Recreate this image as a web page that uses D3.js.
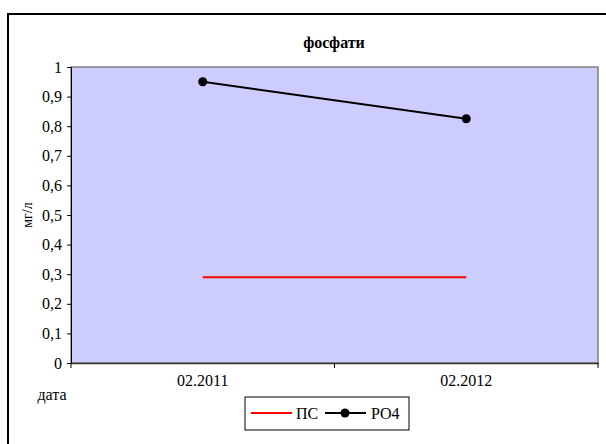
<!DOCTYPE html>
<html><head><meta charset="utf-8">
<script src="https://cdnjs.cloudflare.com/ajax/libs/d3/7.8.5/d3.min.js"></script>
<style>body{margin:0;background:#fff;}svg{display:block;}svg text{font-family:"Liberation Serif","Times New Roman",serif !important;fill:#000;}</style>
</head><body>
<svg id="c" width="606" height="444"></svg>
<script>
const categories = ["02.2011", "02.2012"];
const psValues = [0.29, 0.29];
const po4Values = [0.95, 0.825];
const yTicks = [0, 0.1, 0.2, 0.3, 0.4, 0.5, 0.6, 0.7, 0.8, 0.9, 1];
const title = "фосфати";
const yTitle = "мг/л";
const xTitle = "дата";
const seriesNames = ["ПС", "PO4"];

const svg = d3.select("#c");
const L = 71, R = 598, T = 67, B = 363;

// outer frame
svg.append("rect").attr("x", 8).attr("y", 14).attr("width", 620).attr("height", 450)
  .attr("fill", "#fff").attr("stroke", "#000").attr("stroke-width", 2);

const x = d3.scaleBand().domain(categories).range([L, R]);
const y = d3.scaleLinear().domain([0, 1]).range([B, T]);

svg.append("rect").attr("x", L).attr("y", T).attr("width", R - L).attr("height", B - T)
  .attr("fill", "#CCCCFF").attr("stroke", "#808080").attr("stroke-width", 1.5);

// y axis
const yAxis = svg.append("g").attr("transform", `translate(${L},0)`)
  .call(d3.axisLeft(y).tickValues(yTicks).tickSize(4).tickPadding(5)
    .tickFormat(d => d3.format("~g")(d).replace(".", ",")));
yAxis.select(".domain").attr("stroke", "#000");
yAxis.selectAll("line").attr("stroke", "#000");
yAxis.selectAll("text").attr("font-size", 16);

// x axis
const xAxis = svg.append("g").attr("transform", `translate(0,${B})`)
  .call(d3.axisBottom(x).tickSize(0).tickPadding(12));
xAxis.select(".domain").attr("stroke", "#333").attr("stroke-width", 1.5);
xAxis.selectAll("text").attr("font-size", 16);
// boundary ticks
const bounds = [L, ...categories.slice(1).map(c => x(c)), R];
svg.append("g").selectAll("line").data(bounds).join("line")
  .attr("x1", d => d).attr("x2", d => d).attr("y1", B).attr("y2", B + 5)
  .attr("stroke", "#000");

// PS line
const cx = c => x(c) + x.bandwidth() / 2;
const line = d3.line().x(d => cx(d.c)).y(d => y(d.v));
svg.append("path").datum(categories.map((c, i) => ({c, v: psValues[i]})))
  .attr("d", line).attr("fill", "none").attr("stroke", "#FF0000").attr("stroke-width", 2);

// PO4 line
const po4 = categories.map((c, i) => ({c, v: po4Values[i]}));
svg.append("path").datum(po4).attr("d", line).attr("fill", "none").attr("stroke", "#000").attr("stroke-width", 2);
svg.append("g").selectAll("circle").data(po4).join("circle")
  .attr("cx", d => cx(d.c)).attr("cy", d => y(d.v)).attr("r", 4.5).attr("fill", "#000");

// title
svg.append("text").attr("x", 334).attr("y", 48).attr("text-anchor", "middle")
  .attr("font-size", 16).attr("font-weight", "bold").text(title);
// y title
svg.append("text").attr("transform", `translate(32,${y(0.5)}) rotate(-90)`).attr("text-anchor", "middle")
  .attr("font-size", 14).text(yTitle);
// x title
svg.append("text").attr("x", 52).attr("y", 400).attr("text-anchor", "middle")
  .attr("font-size", 16).text(xTitle);

// legend
const lg = svg.append("g");
lg.append("rect").attr("x", 245).attr("y", 397).attr("width", 164).attr("height", 33)
  .attr("fill", "#fff").attr("stroke", "#000").attr("stroke-width", 1);
lg.append("line").attr("x1", 251).attr("x2", 292).attr("y1", 413).attr("y2", 413).attr("stroke", "#FF0000").attr("stroke-width", 2);
lg.append("text").attr("x", 296).attr("y", 419).attr("font-size", 16).text(seriesNames[0]);
lg.append("line").attr("x1", 325).attr("x2", 366).attr("y1", 413).attr("y2", 413).attr("stroke", "#000").attr("stroke-width", 2);
lg.append("circle").attr("cx", 345).attr("cy", 413).attr("r", 4.5).attr("fill", "#000");
lg.append("text").attr("x", 371).attr("y", 419).attr("font-size", 16).text(seriesNames[1]);
</script>
</body></html>
